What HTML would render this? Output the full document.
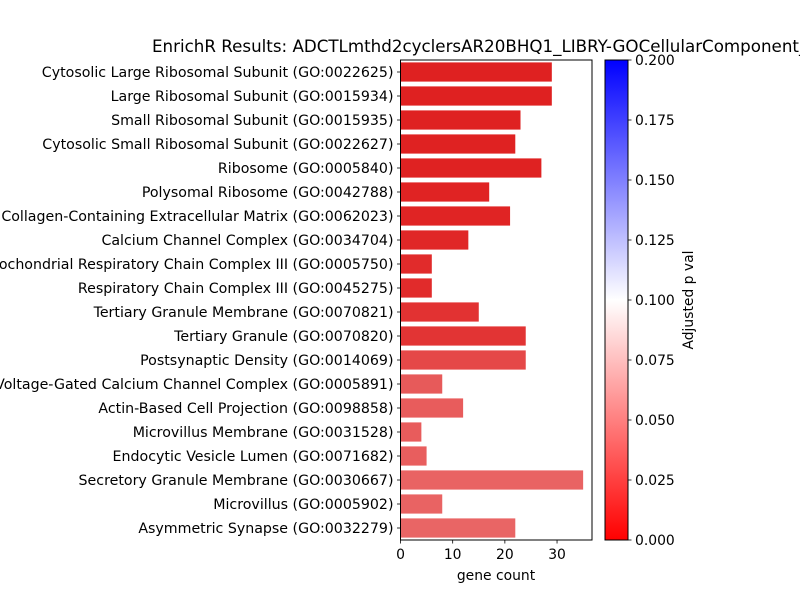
<!DOCTYPE html>
<html><head><meta charset="utf-8"><style>
body{margin:0;background:#fff}
svg{display:block;font-family:"DejaVu Sans","Liberation Sans",sans-serif}
</style></head><body>
<svg id="chart" width="800" height="600">
<defs><linearGradient id="cbar" x1="0" y1="1" x2="0" y2="0">
<stop offset="0" stop-color="#ff0000"/><stop offset="0.5" stop-color="#ffffff"/><stop offset="1" stop-color="#0000ff"/>
</linearGradient></defs>
<text x="152" y="52" font-size="16.7" fill="#000">EnrichR Results: ADCTLmthd2cyclersAR20BHQ1_LIBRY-GOCellularComponent_2023</text>
<g id="plot"></g>
<rect x="605" y="60" width="23" height="480" fill="url(#cbar)" stroke="#000" stroke-width="1"/>
<g id="cbticks"></g>
<text transform="translate(693,300) rotate(-90)" text-anchor="middle" font-size="13.9">Adjusted p val</text>
<text x="496" y="580" text-anchor="middle" font-size="13.9">gene count</text>
</svg>
<script>
const categories=["Cytosolic Large Ribosomal Subunit (GO:0022625)","Large Ribosomal Subunit (GO:0015934)","Small Ribosomal Subunit (GO:0015935)","Cytosolic Small Ribosomal Subunit (GO:0022627)","Ribosome (GO:0005840)","Polysomal Ribosome (GO:0042788)","Collagen-Containing Extracellular Matrix (GO:0062023)","Calcium Channel Complex (GO:0034704)","Mitochondrial Respiratory Chain Complex III (GO:0005750)","Respiratory Chain Complex III (GO:0045275)","Tertiary Granule Membrane (GO:0070821)","Tertiary Granule (GO:0070820)","Postsynaptic Density (GO:0014069)","Voltage-Gated Calcium Channel Complex (GO:0005891)","Actin-Based Cell Projection (GO:0098858)","Microvillus Membrane (GO:0031528)","Endocytic Vesicle Lumen (GO:0071682)","Secretory Granule Membrane (GO:0030667)","Microvillus (GO:0005902)","Asymmetric Synapse (GO:0032279)"];
const geneCounts=[29,29,23,22,27,17,21,13,6,6,15,24,24,8,12,4,5,35,8,22];
const pvals=[0.0005,0.0005,0.0007,0.0008,0.001,0.0015,0.002,0.003,0.005,0.005,0.008,0.009,0.018,0.026,0.027,0.027,0.028,0.03,0.03,0.031];
const xTicks=[0,10,20,30];
const cbTicks=["0.000","0.025","0.050","0.075","0.100","0.125","0.150","0.175","0.200"];
const L=400.5,R=592,T=60,B=540,XMAX=36.7,PMAX=0.2;
const ns="http://www.w3.org/2000/svg";
const g=document.getElementById('plot');
function X(v){return L+v/XMAX*(R-L);}
const band=(B-T)/categories.length;
function Y(i){return T+i*band;}
function color(p){let t=Math.min(1,Math.max(0,p/PMAX));let r,gg,b;
if(t<0.5){r=1;gg=b=2*t;}else{b=1;r=gg=2*(1-t);}
const mx=Math.max(r,gg,b),mn=Math.min(r,gg,b),l=(mx+mn)/2;
const f=c=>l+(c-l)*0.75;
return `rgb(${Math.round(f(r)*255)},${Math.round(f(gg)*255)},${Math.round(f(b)*255)})`;}
function mk(tag,attrs,parent){const e=document.createElementNS(ns,tag);for(const k in attrs)e.setAttribute(k,attrs[k]);(parent||g).appendChild(e);return e;}
categories.forEach((c,i)=>{
 const r=mk('rect',{x:X(0),y:Y(i)+band*0.1,width:X(geneCounts[i])-X(0),height:band*0.8,fill:color(pvals[i])});
 
 
 const yc=Y(i)+band/2;
 const tk=mk('line',{x1:L-3.5,x2:L,y1:yc,y2:yc,stroke:'#000','stroke-width':0.8});
 
 
 const t=mk('text',{x:L-7,y:yc+5,'text-anchor':'end','font-size':14.2});
 t.textContent=c;
 
 
});
xTicks.forEach(v=>{
 const tk=mk('line',{x1:X(v),x2:X(v),y1:B,y2:B+3.5,stroke:'#000','stroke-width':0.8});
 
 
 const t=mk('text',{x:X(v),y:B+19,'text-anchor':'middle','font-size':13.9});
 t.textContent=v;
 
 
});
const fr=mk('rect',{x:L,y:T,width:R-L,height:B-T,fill:'none',stroke:'#000','stroke-width':1});


const cg=document.getElementById('cbticks');
cbTicks.forEach((s,i)=>{
 const y=B-(parseFloat(s)/PMAX)*(B-T);
 const tk=mk('line',{x1:628,x2:631.5,y1:y,y2:y,stroke:'#000','stroke-width':0.8},cg);
 
 
 const t=mk('text',{x:635,y:y+5,'font-size':13.9},cg);
 t.textContent=s;
 
 
});
</script>
</body></html>
